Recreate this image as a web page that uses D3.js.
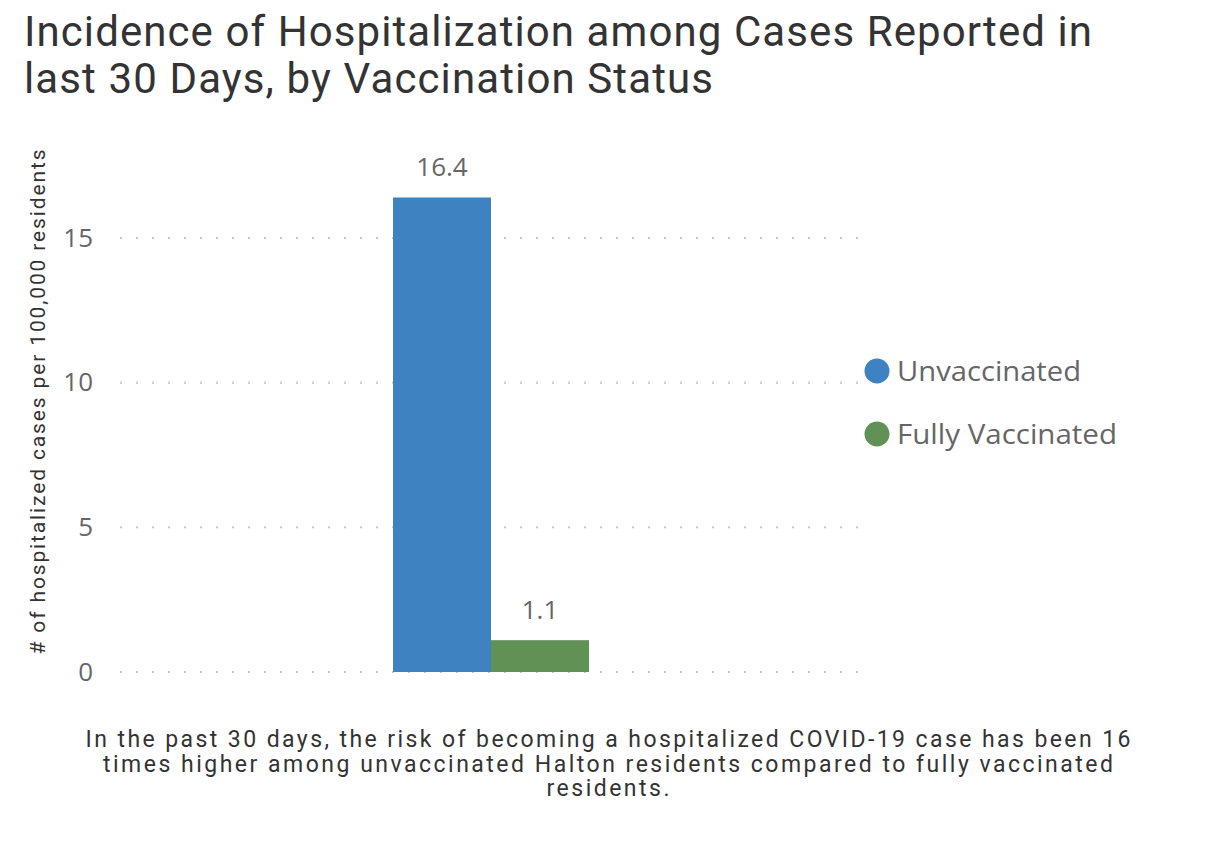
<!DOCTYPE html>
<html><head><meta charset="utf-8">
<script src="https://cdn.jsdelivr.net/npm/d3@7"></script>
<style>body{margin:0;background:#fff;} svg{display:block;}</style>
</head><body>
<svg id="chart" width="1214" height="842"></svg>
<script>
const categories = ["Unvaccinated", "Fully Vaccinated"];
const values = [16.4, 1.1];
const colors = ["#3e82c1", "#629155"];
const yTicks = [0, 5, 10, 15];
const titleLines = ["Incidence of Hospitalization among Cases Reported in", "last 30 Days, by Vaccination Status"];
const yAxisTitle = "# of hospitalized cases per 100,000 residents";
const footnote = ["In the past 30 days, the risk of becoming a hospitalized COVID-19 case has been 16",
  "times higher among unvaccinated Halton residents compared to fully vaccinated", "residents."];

const svg = d3.select("#chart");
const plot = {left: 120, right: 862, top: 160, bottom: 672};

const y = d3.scaleLinear().domain([0, 15]).range([plot.bottom, 238]);
const xOuter = d3.scaleBand().domain(["all"]).range([plot.left, plot.right]).paddingInner(0).paddingOuter(1.393);
const xInner = d3.scaleBand().domain(categories).range([0, xOuter.bandwidth()]);

// title
const titleLens = [1068, 689];
titleLines.forEach((l, i) => {
  svg.append("text").attr("x", 24).attr("y", 46 + i * 47)
    .attr("font-family", "Roboto, sans-serif").attr("font-size", 42).attr("fill", "#333")
    .attr("textLength", titleLens[i]).attr("lengthAdjust", "spacing")
    .text(l);
});

// gridlines
svg.append("g").selectAll("line").data(yTicks).join("line")
  .attr("x1", plot.left).attr("x2", plot.right)
  .attr("y1", d => y(d)).attr("y2", d => y(d))
  .attr("stroke", "#c8c8c8").attr("stroke-width", 2).attr("stroke-dasharray", "2,14");

// y axis
const yAxis = d3.axisLeft(y).tickValues(yTicks).tickSize(0).tickPadding(0);
const ya = svg.append("g").attr("transform", `translate(93,0)`).call(yAxis);
ya.select(".domain").remove();
ya.selectAll("text").attr("font-family", "'Open Sans', sans-serif").attr("font-size", 26).attr("fill", "#666");

// axis title
svg.append("text").attr("transform", "translate(45,402) rotate(-90)")
  .attr("text-anchor", "middle").attr("font-family", "Roboto, sans-serif").attr("font-size", 21).attr("fill", "#333")
  .attr("textLength", 505).attr("lengthAdjust", "spacing")
  .text(yAxisTitle);

// bars
const bars = svg.append("g").attr("transform", `translate(${xOuter("all")},0)`);
bars.selectAll("rect").data(values).join("rect")
  .attr("x", (d, i) => xInner(categories[i]))
  .attr("width", xInner.bandwidth())
  .attr("y", d => y(d)).attr("height", d => y(0) - y(d))
  .attr("fill", (d, i) => colors[i]);
bars.selectAll("text").data(values).join("text")
  .attr("x", (d, i) => xInner(categories[i]) + xInner.bandwidth() / 2)
  .attr("y", d => y(d) - 21)
  .attr("text-anchor", "middle").attr("font-family", "'Open Sans', sans-serif").attr("font-size", 26).attr("fill", "#666")
  .text(d => d.toFixed(1));

// legend
const legendLens = [184, 220];
categories.forEach((c, i) => {
  const yy = 371 + i * 63;
  svg.append("circle").attr("cx", 877).attr("cy", yy).attr("r", 12.5).attr("fill", colors[i]);
  svg.append("text").attr("x", 897).attr("y", yy + 10).attr("font-family", "'Open Sans', sans-serif")
    .attr("font-size", 28).attr("fill", "#666")
    .attr("textLength", legendLens[i]).attr("lengthAdjust", "spacingAndGlyphs").text(c);
});

// footnote
const footLens = [1045, 1010, 123];
footnote.forEach((l, i) => {
  svg.append("text").attr("x", 608).attr("y", 747 + i * 24.5).attr("text-anchor", "middle")
    .attr("font-family", "Roboto, sans-serif").attr("font-size", 23).attr("fill", "#333")
    .attr("textLength", footLens[i]).attr("lengthAdjust", "spacing").text(l);
});
</script>
</body></html>
